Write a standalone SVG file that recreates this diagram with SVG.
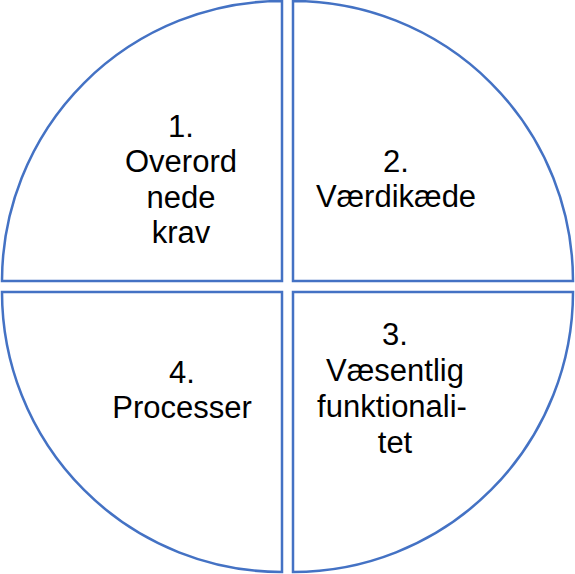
<svg xmlns="http://www.w3.org/2000/svg" width="575" height="574" viewBox="0 0 575 574">
<style>
.seg{fill:#ffffff;stroke:#4472C4;stroke-width:2.5;stroke-linejoin:miter}
.lbl{font-family:"Liberation Sans",Arial,sans-serif;font-size:31px;fill:#000000;text-anchor:middle}
</style>
<rect width="575" height="574" fill="#ffffff"/>
<g id="node1">
<path class="seg" d="M 282 281 L 2 281 A 280 280 0 0 1 282 1 Z"/>
<text class="lbl"><tspan x="181" y="137">1.</tspan><tspan x="181" y="172">Overord</tspan><tspan x="181" y="208">nede</tspan><tspan x="181" y="243">krav</tspan></text>
</g>
<g id="node2">
<path class="seg" d="M 293 281 L 293 1 A 280 280 0 0 1 573 281 Z"/>
<text class="lbl"><tspan x="396" y="172">2.</tspan><tspan x="396" y="207">Værdikæde</tspan></text>
</g>
<g id="node3">
<path class="seg" d="M 293 292 L 573 292 A 280 280 0 0 1 293 572 Z"/>
<text class="lbl"><tspan x="395" y="345">3.</tspan><tspan x="395" y="381">Væsentlig</tspan><tspan x="392" y="417">funktionali-</tspan><tspan x="395" y="453">tet</tspan></text>
</g>
<g id="node4">
<path class="seg" d="M 282 292 L 282 572 A 280 280 0 0 1 2 292 Z"/>
<text class="lbl"><tspan x="182" y="383">4.</tspan><tspan x="182" y="418">Processer</tspan></text>
</g>
<g id="connectors"></g>
</svg>
